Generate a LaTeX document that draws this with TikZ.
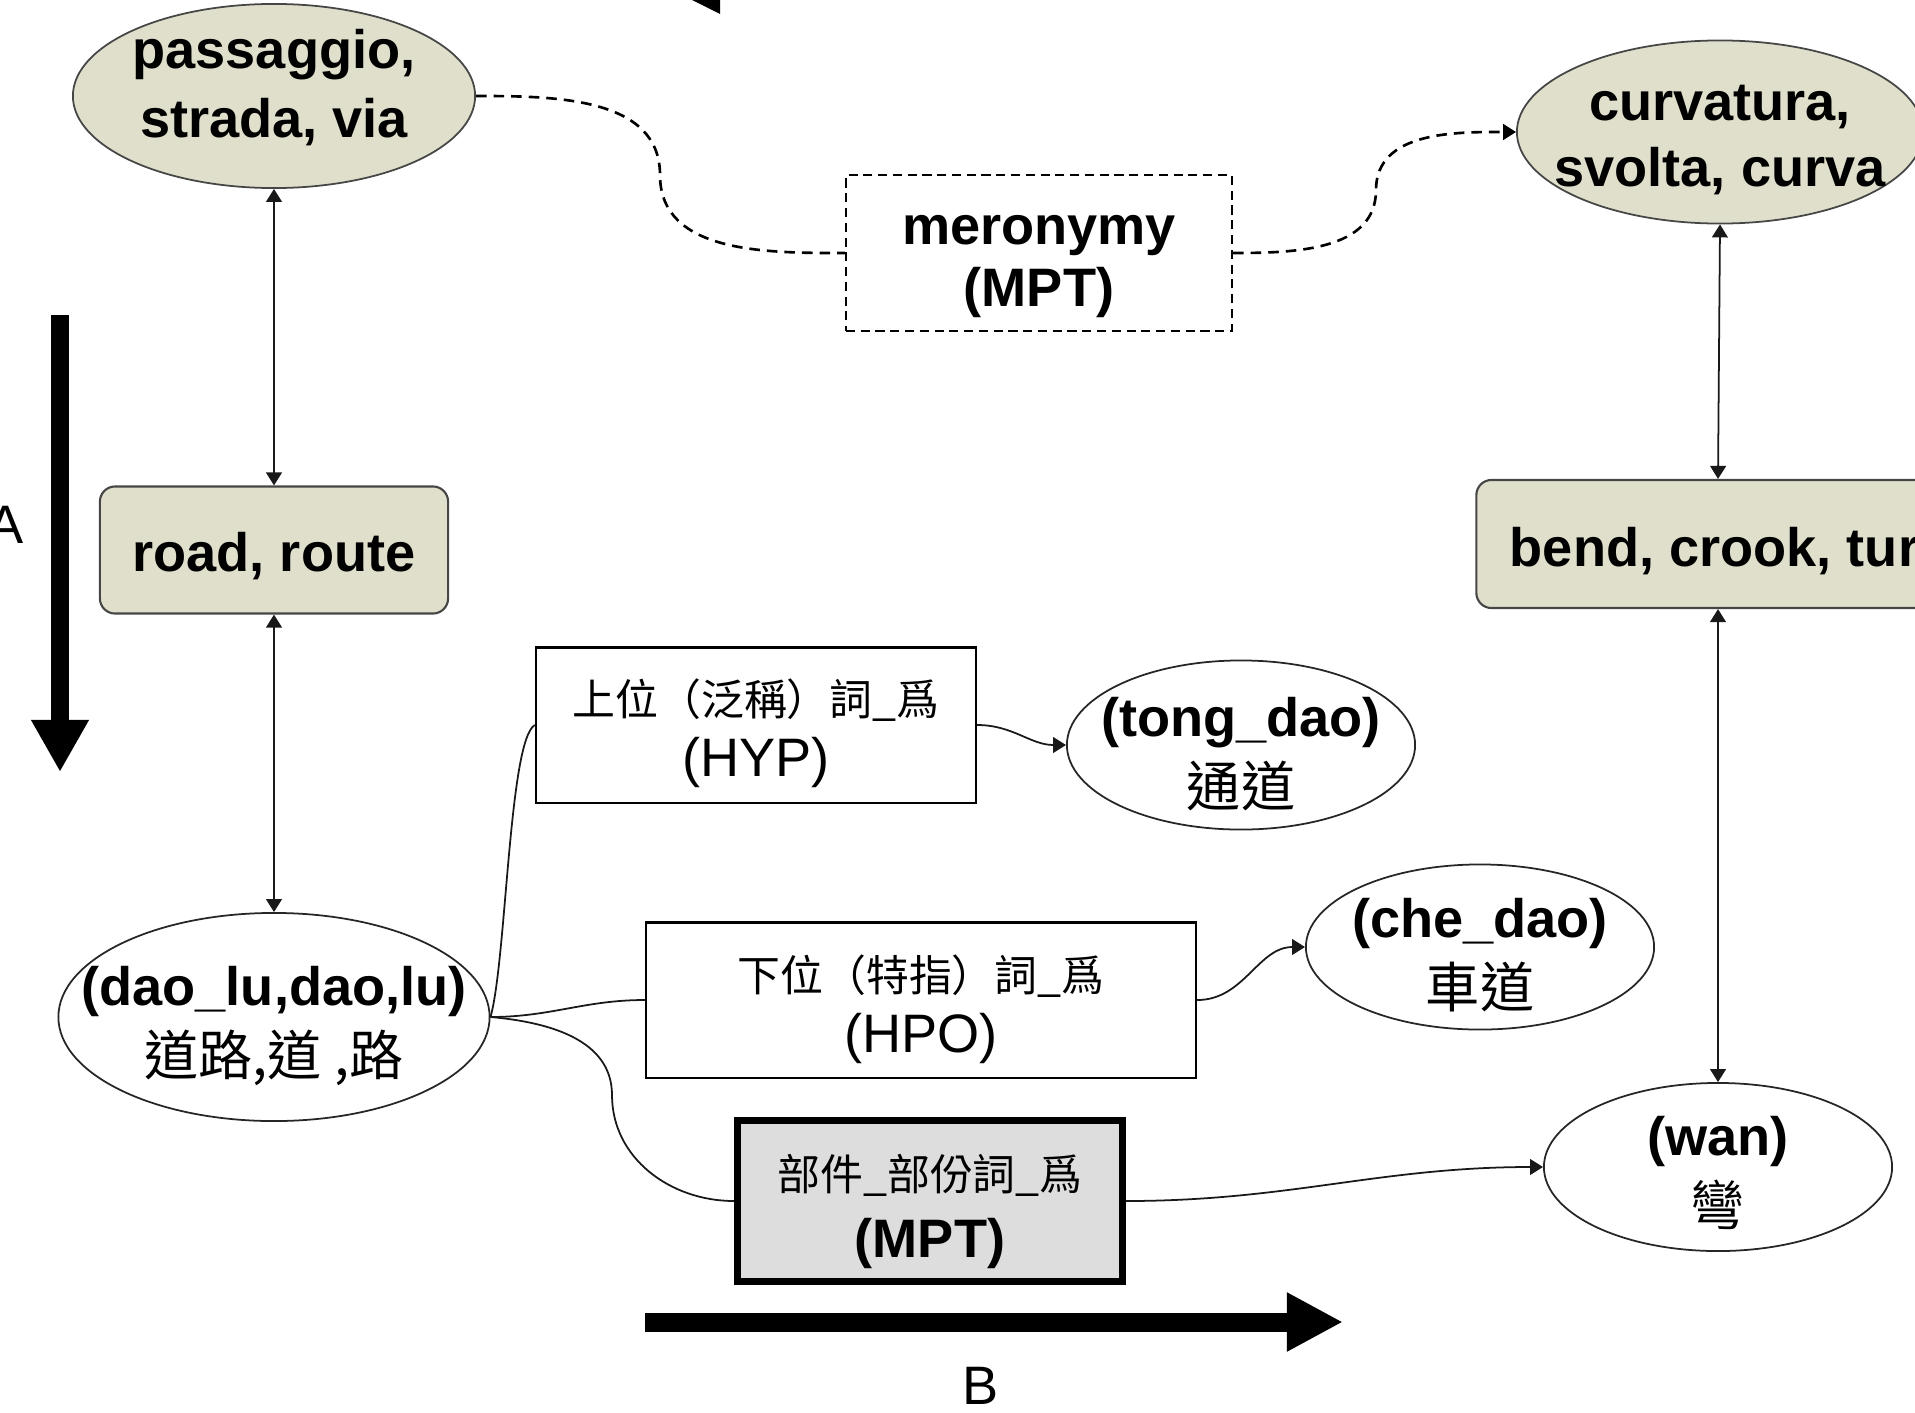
\documentclass[tikz,border=0pt]{standalone}
\usepackage{fontspec}
\setmainfont{Liberation Sans}
\newfontfamily\cjk{Noto Sans CJK TC}
\usetikzlibrary{arrows.meta,shapes.geometric}
\definecolor{beige}{RGB}{223,223,203}
\definecolor{mptgray}{RGB}{221,221,221}
\definecolor{edgegray}{RGB}{70,70,70}
\newcommand\cjksmall{\cjk\mdseries\fontsize{12.2}{18}\selectfont}
\newcommand\cjkbig{\cjk\mdseries}
% struts that move a node's text down (\topstrut) or up (\botstrut)
\newcommand\topstrut[1]{\rule{0pt}{#1}}
\newcommand\botstrut[1]{\rule[-#1]{0pt}{#1}}
\tikzset{
  ell/.style={ellipse, draw=black!85, line width=0.5pt, fill=white, inner sep=-1cm, align=center,
    font=\fontsize{15.4}{20}\selectfont},
  beigeell/.style={ell, fill=beige, draw=edgegray, font=\bfseries\fontsize{15.4}{18.8}\selectfont},
  rbox/.style={rectangle, rounded corners=4.3pt, draw=edgegray, line width=0.6pt, fill=beige,
    inner sep=0pt, font=\bfseries\fontsize{15.4}{18.8}\selectfont},
  relbox/.style={rectangle, draw=black, line width=0.6pt, fill=white, align=center, inner sep=0pt,
    font=\fontsize{15.4}{17.25}\selectfont},
  mptbox/.style={relbox, fill=mptgray, line width=2pt, font=\fontsize{15.4}{19}\selectfont},
  merbox/.style={relbox, line width=0.55pt, dash pattern=on 2.6pt off 1.6pt,
    font=\bfseries\fontsize{15.4}{17.8}\selectfont},
  lbl/.style={inner sep=0pt, font=\fontsize{15.4}{18}\selectfont},
  conn/.style={line width=0.5pt, draw=black!90},
  tipa/.tip={Triangle[length=3.7pt,width=4.5pt]},
  arr/.style={conn, -tipa},
  darr/.style={conn, tipa-tipa},
  dashline/.style={line width=0.75pt, dash pattern=on 3pt off 2pt},
}
\begin{document}
\begin{tikzpicture}[x=0.01cm, y=0.01cm]
\useasboundingbox (0,0) rectangle (1915,-1412);
\clip (0,0) rectangle (1915,-1412);

% nodes
\node[beigeell, minimum width=4.02cm, minimum height=1.84cm, font=\bfseries\fontsize{15.4}{19.5}\selectfont] (pass) at (274,-96) {passaggio,\\strada, via\botstrut{7.1pt}};
\node[beigeell, minimum width=4.06cm, minimum height=1.83cm] (curv) at (1720,-132) {\topstrut{14.7pt}curvatura,\\svolta, curva};
\node[rbox, minimum width=3.48cm, minimum height=1.27cm] (road) at (274,-550) {\topstrut{14.7pt}road, route};
\node[rbox, minimum width=5.09cm, minimum height=1.28cm] (bend) at (1731,-544) {\topstrut{15.4pt}bend, crook, turn};
\node[merbox, minimum width=3.86cm, minimum height=1.55cm] (mer) at (1039,-253) {\topstrut{16.1pt}meronymy\\(MPT)};
\node[ell, minimum width=4.31cm, minimum height=2.08cm] (dao) at (274,-1017) {\topstrut{16.1pt}\textbf{(dao\_lu,dao,lu)}\\{\cjkbig 道路,道 ,路}};
\node[relbox, minimum width=4.40cm, minimum height=1.55cm] (hyp) at (756,-725) {{\cjksmall\topstrut{15.3pt}上位（泛稱）詞\_爲}\\(HYP)};
\node[relbox, minimum width=5.50cm, minimum height=1.55cm] (hpo) at (921,-1000) {{\cjksmall\topstrut{15.6pt}下位（特指）詞\_爲}\\(HPO)};
\node[mptbox, minimum width=3.85cm, minimum height=1.61cm] (mpt) at (930,-1201) {{\cjksmall\topstrut{16.3pt}部件\_部份詞\_爲}\\\textbf{(MPT)}};
\node[ell, minimum width=3.48cm, minimum height=1.69cm] (tong) at (1241,-745) {\topstrut{16.4pt}\textbf{(tong\_dao)}\\{\cjkbig 通道}};
\node[ell, minimum width=3.48cm, minimum height=1.65cm] (che) at (1480,-947) {\topstrut{15.7pt}\textbf{(che\_dao)}\\{\cjkbig 車道}};
\node[ell, minimum width=3.48cm, minimum height=1.68cm] (wan) at (1718,-1167) {\topstrut{14.7pt}\textbf{(wan)}\\{\cjkbig 彎}};

% vertical links
\draw[darr] (pass.south) -- (road.north);
\draw[darr] (road.south) -- (dao.north);
\draw[darr] (curv.south) -- (wan.north |- bend.north);
\draw[darr] (wan.north |- bend.south) -- (wan.north);

% dashed meronymy links
\coordinate (m1) at (660,-175);
\coordinate (m2) at (1376,-190);
\draw[dashline] (pass.east) to[out=0,in=90] (m1) to[out=-90,in=180] (mer.west);
\draw[dashline, -{Triangle[length=3.7pt,width=4.5pt]}] (mer.east) to[out=0,in=-90] (m2) to[out=90,in=180] (curv.west);

% relation links
\coordinate (m3) at (612,-1095);
\draw[conn] (dao.east) .. controls +(16,57) and +(-26,-15) .. (hyp.west);
\draw[conn] (dao.east) to[out=0,in=180] (hpo.west);
\draw[conn] (dao.east) to[out=-5,in=90] (m3) to[out=-90,in=180] (mpt.west);
\draw[arr] (hyp.east) to[out=0,in=180] (tong.west);
\draw[arr] (hpo.east) to[out=0,in=180] (che.west);
\draw[arr] (mpt.east) to[out=0,in=180] (wan.west);

% big arrows
\coordinate (aS) at (60,-315);
\coordinate (aE) at (60,-772);
\draw[line width=0.18cm, -{Triangle[length=0.52cm,width=0.54cm]}] (aS) -- (aE);
\coordinate (bS) at (645,-1322);
\coordinate (bE) at (1343,-1322);
\draw[line width=0.19cm, -{Triangle[length=0.56cm,width=0.55cm]}] (bS) -- (bE);
\node[lbl] (labA) at (6,-525) {A};
\node[lbl] (labB) at (981,-1386) {B};

% fragment of an arrowhead at the top edge
\fill (692,0) -- (720,0) -- (720,-14) -- cycle;
\end{tikzpicture}
\end{document}
